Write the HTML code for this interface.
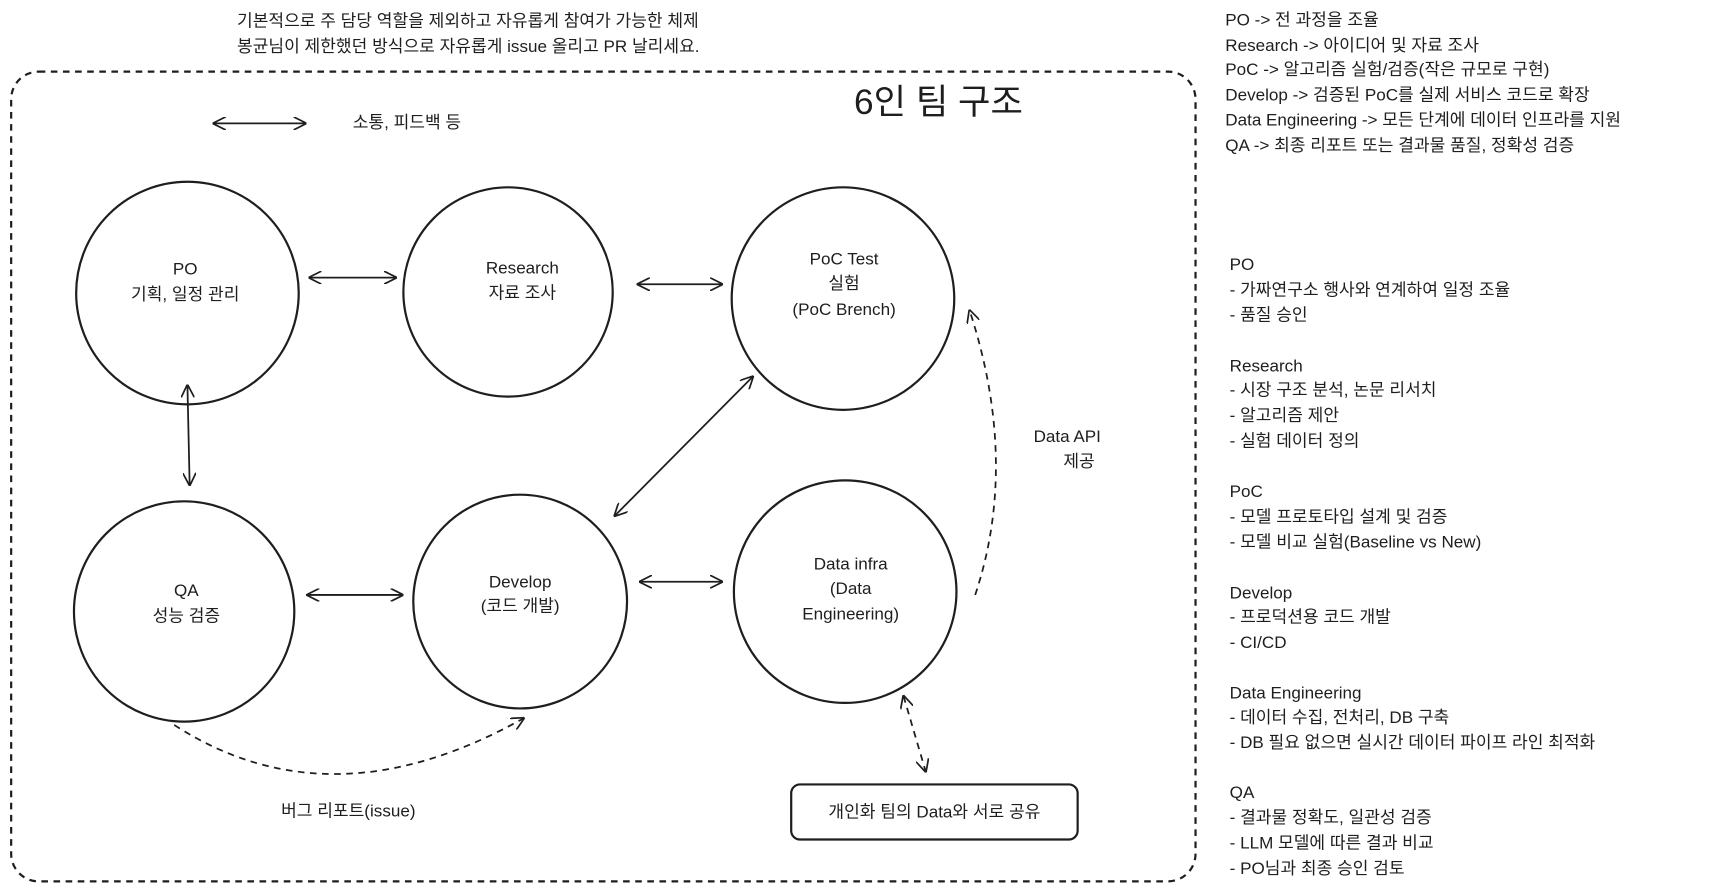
<!DOCTYPE html>
<html><head><meta charset="utf-8"><style>
html,body{margin:0;padding:0;background:#fff;}
svg{display:block;}
text{font-family:"Liberation Sans","Noto Sans CJK KR",sans-serif;fill:#1e1e1e;font-size:15.5px;dominant-baseline:middle;}
.c{text-anchor:middle;}
</style></head><body>
<svg width="1719" height="888" viewBox="0 0 1560 806" xmlns="http://www.w3.org/2000/svg">
<defs>
<marker id="a" viewBox="0 0 10 10" refX="9" refY="5" markerWidth="12" markerHeight="12" orient="auto-start-reverse" markerUnits="userSpaceOnUse"><path d="M0,0 L10,5 L0,10" fill="none" stroke="#1e1e1e" stroke-width="1.3"/></marker>
</defs>
<g stroke="#1e1e1e" stroke-width="2" fill="none">
<rect x="10" y="65" width="1075" height="735" rx="25" stroke-dasharray="6 5"/>
<circle cx="170" cy="266" r="101"/>
<circle cx="461" cy="265" r="95"/>
<circle cx="765" cy="271" r="101"/>
<circle cx="167" cy="555" r="100"/>
<circle cx="472" cy="546" r="97"/>
<circle cx="767" cy="537" r="101"/>
<rect x="718" y="712" width="260" height="50" rx="8"/>
<g stroke-width="1.6" marker-start="url(#a)" marker-end="url(#a)">
<line x1="194" y1="112" x2="277" y2="112"/>
<line x1="281" y1="252" x2="359" y2="252"/>
<line x1="579" y1="258" x2="655" y2="258"/>
<line x1="170" y1="350" x2="172" y2="440"/>
<line x1="558" y1="468" x2="683" y2="342"/>
<line x1="279" y1="540" x2="365" y2="540"/>
<line x1="581" y1="528" x2="655" y2="528"/>
<line x1="820" y1="632" x2="840" y2="700" stroke-dasharray="6 5"/>
</g>
<path d="M885,540 Q925,420 880,282" stroke-width="1.6" stroke-dasharray="6 5" marker-end="url(#a)"/>
<path d="M158,658 Q300,750 475,652" stroke-width="1.6" stroke-dasharray="6 5" marker-end="url(#a)"/>
</g>
<text x="215" y="20">기본적으로 주 담당 역할을 제외하고 자유롭게 참여가 가능한 체제</text>
<text x="215" y="43">봉균님이 제한했던 방식으로 자유롭게 issue 올리고 PR 날리세요.</text>
<text x="775" y="95" style="font-size:32px">6인 팀 구조</text>
<text x="320" y="112">소통, 피드백 등</text>
<text class="c" x="168" y="245">PO</text><text class="c" x="168" y="268">기획, 일정 관리</text>
<text class="c" x="474" y="244">Research</text><text class="c" x="474" y="267">자료 조사</text>
<text class="c" x="766" y="236">PoC Test</text><text class="c" x="766" y="258">실험</text><text class="c" x="766" y="282">(PoC Brench)</text>
<text class="c" x="169" y="537">QA</text><text class="c" x="169" y="560">성능 검증</text>
<text class="c" x="472" y="529">Develop</text><text class="c" x="472" y="551">(코드 개발)</text>
<text class="c" x="772" y="513">Data infra</text><text class="c" x="772" y="535">(Data</text><text class="c" x="772" y="558">Engineering)</text>
<text x="938" y="397">Data API</text><text x="965" y="420">제공</text>
<text x="255" y="737">버그 리포트(issue)</text>
<text class="c" x="848" y="738">개인화 팀의 Data와 서로 공유</text>
<g>
<text x="1112" y="19">PO -&gt; 전 과정을 조율</text>
<text x="1112" y="42">Research -&gt; 아이디어 및 자료 조사</text>
<text x="1112" y="64">PoC -&gt; 알고리즘 실험/검증(작은 규모로 구현)</text>
<text x="1112" y="87">Develop -&gt; 검증된 PoC를 실제 서비스 코드로 확장</text>
<text x="1112" y="110">Data Engineering -&gt; 모든 단계에 데이터 인프라를 지원</text>
<text x="1112" y="133">QA -&gt; 최종 리포트 또는 결과물 품질, 정확성 검증</text>
<text x="1116" y="241">PO</text>
<text x="1116" y="264">- 가짜연구소 행사와 연계하여 일정 조율</text>
<text x="1116" y="287">- 품질 승인</text>
<text x="1116" y="333">Research</text>
<text x="1116" y="355">- 시장 구조 분석, 논문 리서치</text>
<text x="1116" y="378">- 알고리즘 제안</text>
<text x="1116" y="401">- 실험 데이터 정의</text>
<text x="1116" y="447">PoC</text>
<text x="1116" y="470">- 모델 프로토타입 설계 및 검증</text>
<text x="1116" y="493">- 모델 비교 실험(Baseline vs New)</text>
<text x="1116" y="539">Develop</text>
<text x="1116" y="561">- 프로덕션용 코드 개발</text>
<text x="1116" y="584">- CI/CD</text>
<text x="1116" y="630">Data Engineering</text>
<text x="1116" y="652">- 데이터 수집, 전처리, DB 구축</text>
<text x="1116" y="675">- DB 필요 없으면 실시간 데이터 파이프 라인 최적화</text>
<text x="1116" y="720">QA</text>
<text x="1116" y="743">- 결과물 정확도, 일관성 검증</text>
<text x="1116" y="766">- LLM 모델에 따른 결과 비교</text>
<text x="1116" y="789">- PO님과 최종 승인 검토</text>
</g>
</svg>
</body></html>
